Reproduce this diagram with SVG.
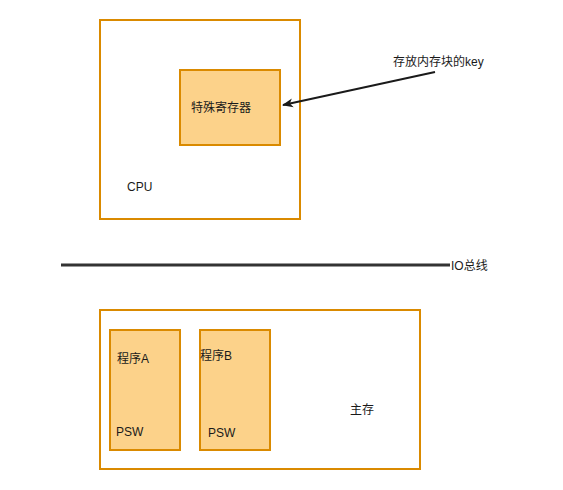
<svg xmlns="http://www.w3.org/2000/svg" width="563" height="490" viewBox="0 0 563 490">
<style>
.box{fill:#ffffff;stroke:#da8a00;stroke-width:2}
.fill{fill:#fcd28a;stroke:#da8a00;stroke-width:2}
text{font-family:"Liberation Sans","Noto Sans CJK SC",sans-serif;font-size:12px;fill:#1a1a1a}
</style>
<defs>
<marker id="ah" markerWidth="12" markerHeight="12" refX="10" refY="6" orient="auto" markerUnits="userSpaceOnUse">
<path d="M0,1.5 L11,6 L0,10.5 L3,6 Z" fill="#1a1a1a"/>
</marker>
</defs>
<rect width="563" height="490" fill="#ffffff"/>
<g id="cpu"><rect class="box" x="100" y="20" width="200" height="199"/><text x="127" y="191">CPU</text></g>
<g id="register"><rect class="fill" x="180" y="70" width="100" height="75"/><text x="191" y="112">特殊寄存器</text></g>
<g id="keylabel"><text x="393" y="66">存放内存块的key</text></g>
<g id="memory"><rect class="box" x="100" y="310" width="320" height="159"/><text x="350" y="414">主存</text></g>
<g id="progA"><rect class="fill" x="110" y="330" width="70" height="120"/><text x="117" y="363">程序A</text><text x="116" y="436">PSW</text></g>
<g id="progB"><rect class="fill" x="200" y="330" width="70" height="120"/><text x="200" y="360">程序B</text><text x="208" y="437">PSW</text></g>
<g id="buslabel"><text x="451" y="270">IO总线</text></g>
<g id="connectors">
<line x1="435" y1="72" x2="283" y2="105" stroke="#1a1a1a" stroke-width="2" marker-end="url(#ah)"/>
<line x1="61" y1="265" x2="450" y2="265" stroke="#333333" stroke-width="3"/>
</g>
</svg>
